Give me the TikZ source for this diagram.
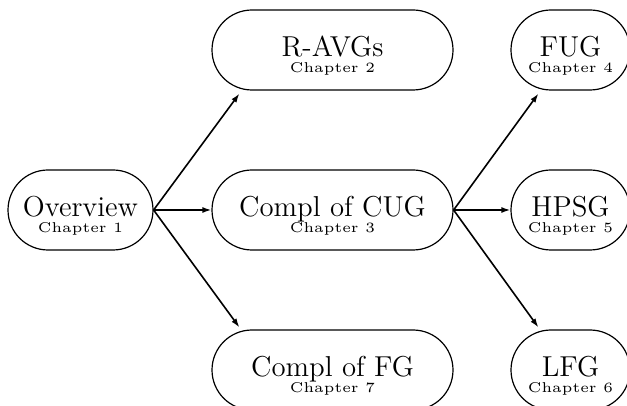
\documentclass[tikz,border=0pt]{standalone}
\usetikzlibrary{arrows.meta}

\newcommand{\chapline}[1]{\scalebox{1.42}{\tiny Chapter #1}}

\begin{document}
\begin{tikzpicture}[x=0.5pt,y=-0.5pt,
    chapbox/.style={draw, line width=0.6pt, rounded corners=20pt,
        minimum height=40pt, align=center, font=\Large, inner sep=0pt},
    link/.style={line width=0.8pt, -{Latex[length=4.5pt,width=3pt]}}]
    \clip (0,0) rectangle (627,406);

    \node[chapbox, minimum width=72.5pt] (overview) at (80.5,210)
        {\rule{0pt}{16pt}Overview\\[-10pt]\chapline{1}};

    \node[chapbox, minimum width=120.5pt] (ravg) at (332.5,50)
        {\rule{0pt}{16pt}R-AVGs\\[-10pt]\chapline{2}};
    \node[chapbox, minimum width=120.5pt] (cug) at (332.5,210)
        {\rule{0pt}{16pt}Compl of CUG\\[-10pt]\chapline{3}};
    \node[chapbox, minimum width=120.5pt] (fg) at (332.5,370)
        {\rule{0pt}{16pt}Compl of FG\\[-10pt]\chapline{7}};

    \node[chapbox, minimum width=59.5pt] (fug) at (570.5,50)
        {\rule{0pt}{16pt}FUG\\[-10pt]\chapline{4}};
    \node[chapbox, minimum width=59.5pt] (hpsg) at (570.5,210)
        {\rule{0pt}{16pt}HPSG\\[-10pt]\chapline{5}};
    \node[chapbox, minimum width=59.5pt] (lfg) at (570.5,370)
        {\rule{0pt}{16pt}LFG\\[-10pt]\chapline{6}};

    \draw[link] (overview.east) -- ([xshift=14pt,yshift=-1.5pt]ravg.south west);
    \draw[link] (overview.east) -- (cug.west);
    \draw[link] (overview.east) -- ([xshift=14pt,yshift=1pt]fg.north west);

    \draw[link] (cug.east) -- ([xshift=14pt,yshift=-1.5pt]fug.south west);
    \draw[link] (cug.east) -- (hpsg.west);
    \draw[link] (cug.east) -- ([xshift=14pt,yshift=1pt]lfg.north west);
\end{tikzpicture}
\end{document}
